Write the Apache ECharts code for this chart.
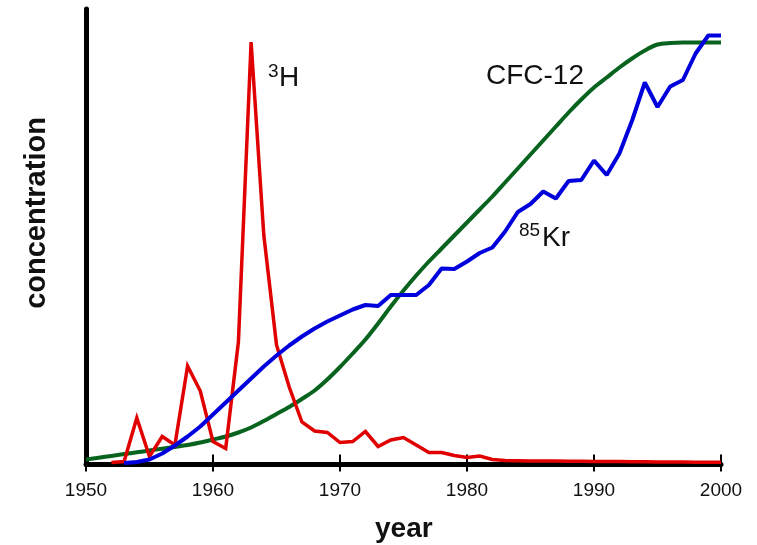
<!DOCTYPE html>
<html>
<head>
<meta charset="utf-8">
<style>
html,body{margin:0;padding:0;background:#fff;}
#chart{width:757px;height:545px;}
</style>
<script src="https://cdn.jsdelivr.net/npm/echarts@6/dist/echarts.min.js"></script>
</head>
<body>
<div id="chart"></div>
<script>
// x tick labels
const xTicks = [1950, 1960, 1970, 1980, 1990, 2000];

// CFC-12 (green), yearly 1950-2000, arbitrary concentration units
const cfcYears = [1950,1951,1952,1953,1954,1955,1956,1957,1958,1959,1960,1961,1962,1963,1964,1965,1966,1967,1968,1969,1970,1971,1972,1973,1974,1975,1976,1977,1978,1979,1980,1981,1982,1983,1984,1985,1986,1987,1988,1989,1990,1991,1992,1993,1994,1995,1996,1997,1998,1999,2000];
const cfcValues = [5,6.8,8.6,10.4,12.2,14,15.8,17.6,19.5,22,25,28,32,37,43.5,50.5,57.5,65.5,74,85,97.5,111,125,141,158,174,189,203,216,229,242,255,268,282,296,310,324,338,352,365,377,387,397,406,414,420,421.5,422,422,422,422];

// 85Kr (blue), yearly 1953-2000
const krYears = [1953,1954,1955,1956,1957,1958,1959,1960,1961,1962,1963,1964,1965,1966,1967,1968,1969,1970,1971,1972,1973,1974,1975,1976,1977,1978,1979,1980,1981,1982,1983,1984,1985,1986,1987,1988,1989,1990,1991,1992,1993,1994,1995,1996,1997,1998,1999,2000];
const krValues = [1.5,2.5,5,11,19,28,38,50,62,74,86,98,109,119,128,136,143,149,155,159.5,158.5,169.5,169.5,169.5,179.5,196,195.5,203,211.5,217,233,252.5,260.5,273,266,283.5,284.5,304,289.5,311,344,382,357.5,378,384.5,411,429,429];

// 3H (red), yearly 1952-2000
const h3Years = [1952,1953,1954,1955,1956,1957,1958,1959,1960,1961,1962,1963,1964,1965,1966,1967,1968,1969,1970,1971,1972,1973,1974,1975,1976,1977,1978,1979,1980,1981,1982,1983,1984,1985,1986,1987,1988,1989,1990,1991,1992,1993,1994,1995,1996,1997,1998,1999,2000];
const h3Values = [2,3,46.5,8,28,19.5,98.5,73.5,23,16,122.5,422.5,229.5,119.5,77.5,42.5,33.5,32,22,23,33,18,24.5,27,19.5,12,12,9,7,8.5,5,4,3.8,3.6,3.5,3.4,3.3,3.2,3.1,3,2.9,2.8,2.7,2.6,2.5,2.4,2.3,2.2,2.2];

const yMax = 455.5;

function pairs(xs, ys){ return xs.map((x,i)=>[x, ys[i]]); }

const chart = echarts.init(document.getElementById('chart'), null, {renderer:'canvas'});
const FONT = 'Liberation Sans, Arial, Helvetica, sans-serif';

chart.setOption({
  animation: false,
  backgroundColor: '#fff',
  grid: {left: 86, right: 36, top: 9, bottom: 80.5, containLabel: false},
  xAxis: [
    {
      type: 'value', min: 1950, max: 2000, interval: 10,
      axisLine: {show: true, onZero: false, lineStyle: {color: '#000', width: 5}},
      axisTick: {show: true, inside: true, length: 10, lineStyle: {color: '#000', width: 2}},
      axisLabel: {show: true, margin: 17, color: '#111', fontSize: 19, fontFamily: FONT,
        formatter: v => (xTicks.indexOf(v) >= 0 ? String(v) : '')},
      splitLine: {show: false}
    },
    {
      type: 'value', min: 1950, max: 2000, interval: 10, position: 'bottom',
      axisLine: {show: false},
      axisTick: {show: true, inside: false, length: 7, lineStyle: {color: '#000', width: 2}},
      axisLabel: {show: false},
      splitLine: {show: false}
    }
  ],
  yAxis: {
    type: 'value', min: 0, max: yMax,
    axisLine: {show: true, onZero: false, lineStyle: {color: '#000', width: 5}},
    axisTick: {show: false},
    axisLabel: {show: false},
    splitLine: {show: false}
  },
  series: [
    {
      name: 'CFC-12', type: 'line', xAxisIndex: 0, data: pairs(cfcYears, cfcValues),
      showSymbol: false, smooth: 0.3,
      lineStyle: {color: '#07631e', width: 4}, z: 2
    },
    {
      name: '3H', type: 'line', xAxisIndex: 0, data: pairs(h3Years, h3Values),
      showSymbol: false,
      lineStyle: {color: '#e00000', width: 3.5, join: 'miter'}, z: 3
    },
    {
      name: '85Kr', type: 'line', xAxisIndex: 0, data: pairs(krYears, krValues),
      showSymbol: false,
      lineStyle: {color: '#0000dc', width: 4}, z: 4
    }
  ],
  graphic: [
    {type: 'text', left: 268, top: 62, style: {text: '3', fontSize: 19, fontFamily: FONT, fill: '#111'}},
    {type: 'text', left: 279, top: 64, style: {text: 'H', fontSize: 28, fontFamily: FONT, fill: '#111'}},
    {type: 'text', left: 486, top: 62, style: {text: 'CFC-12', fontSize: 28, fontFamily: FONT, fill: '#111'}},
    {type: 'text', left: 519, top: 221, style: {text: '85', fontSize: 19, fontFamily: FONT, fill: '#111'}},
    {type: 'text', left: 542, top: 224, style: {text: 'Kr', fontSize: 28, fontFamily: FONT, fill: '#111'}},
    {type: 'text', left: 375, top: 515, style: {text: 'year', fontSize: 28, fontWeight: 'bold', fontFamily: FONT, fill: '#111'}},
    {type: 'text', x: 37, y: 213, rotation: Math.PI/2,
      style: {text: 'concentration', fontSize: 29, fontWeight: 'bold', fontFamily: FONT, fill: '#111', align: 'center', verticalAlign: 'middle'}}
  ]
});
</script>
</body>
</html>
